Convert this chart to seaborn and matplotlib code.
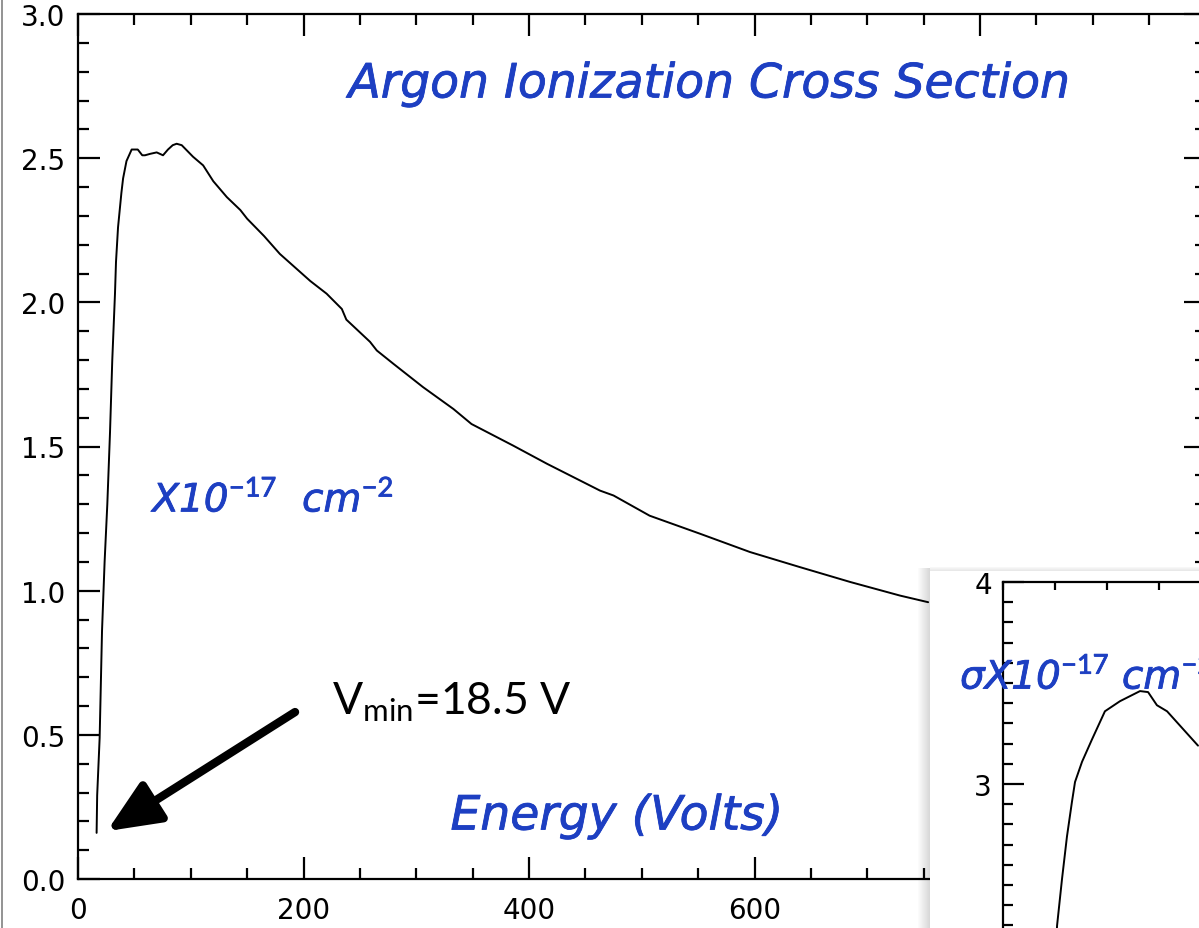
import matplotlib
matplotlib.use("Agg")
import matplotlib.pyplot as plt
import matplotlib.patheffects as pe
import seaborn as sns
import numpy as np
from matplotlib.patches import Rectangle
from matplotlib.lines import Line2D
from matplotlib.ticker import MultipleLocator, FormatStrFormatter

# ---------------- data ----------------
energy = [16.5, 17.0, 19.2, 21.3, 23.6, 26.0, 28.4, 30.4, 32.8, 33.7, 35.5, 38.5,
          40.0, 43.0, 47.6, 53.0, 57.0, 59.4, 64.0, 69.8, 75.4, 79.8, 84.0, 87.5,
          92.0, 102, 111, 120, 132, 144, 150, 165, 179, 206, 220.5, 234, 238, 259,
          265, 280, 306, 333, 349, 386, 416, 463, 475, 507, 552, 596, 640, 685,
          729, 754]
sigma = [0.16, 0.29, 0.49, 0.86, 1.10, 1.30, 1.55, 1.80, 2.03, 2.14, 2.26, 2.38,
         2.43, 2.49, 2.53, 2.53, 2.51, 2.51, 2.515, 2.52, 2.51, 2.53, 2.545, 2.55,
         2.545, 2.505, 2.475, 2.42, 2.365, 2.32, 2.29, 2.23, 2.168, 2.074, 2.03,
         1.977, 1.94, 1.863, 1.833, 1.786, 1.706, 1.63, 1.578, 1.503, 1.44, 1.347,
         1.33, 1.26, 1.197, 1.134, 1.082, 1.03, 0.983, 0.96]

inset_energy = [20.2, 20.8, 22.7, 24.6, 26.5, 27.7, 30.4, 34.2, 39.2, 45.0, 52.7,
                55.8, 59.2, 63.1, 75.0]
inset_sigma = [2.15, 2.30, 2.53, 2.74, 2.91, 3.01, 3.11, 3.22, 3.36, 3.41, 3.46,
               3.455, 3.39, 3.36, 3.19]

x_major_ticks = [0, 200, 400, 600, 800, 1000]
x_tick_labels = ['0', '200', '400', '600', '', '']
y_major_ticks = [0.0, 0.5, 1.0, 1.5, 2.0, 2.5, 3.0]
inset_y_ticks = [3, 4]
inset_y_labels = ['3', '4']

title_text = "Argon Ionization Cross Section"
unit_text = r"X10$^{\mathit{-17}}$  cm$^{\mathit{-2}}$"
xlabel_text = "Energy (Volts)"
inset_unit_text = "\u03c3X10" + r"$^{\mathit{-17}}$ cm$^{\mathit{-2}}$"
vmin_text = r"V$_{\mathrm{min}}$=18.5 V"

# ---------------- style ----------------
sns.set_style("ticks")
plt.rcParams['font.family'] = ['DejaVu Sans']
plt.rcParams['mathtext.fontset'] = 'custom'
plt.rcParams['mathtext.rm'] = 'Lato'
plt.rcParams['mathtext.it'] = 'DejaVu Sans:italic'

BLUE = '#1d3fc2'
BOLDER = [pe.withStroke(linewidth=0.6, foreground=BLUE)]
W, H = 1199, 929
fig = plt.figure(figsize=(W / 100, H / 100), dpi=100)
fig.patch.set_facecolor('white')

# main axes
ax = fig.add_axes([78 / W, (H - 880) / H, 1127.5 / W, 865 / H])
ax.set_facecolor('white')
sns.lineplot(x=energy, y=sigma, ax=ax, color='black', lw=1.4,
             estimator=None, sort=False)
ax.set_xlim(0, 1000)
ax.set_ylim(0, 3.0)
ax.set_xticks(x_major_ticks)
ax.set_xticklabels(x_tick_labels)
ax.set_yticks(y_major_ticks)
ax.xaxis.set_minor_locator(MultipleLocator(50))
ax.yaxis.set_minor_locator(MultipleLocator(0.1))
ax.yaxis.set_major_formatter(FormatStrFormatter('%.1f'))
for s in ax.spines.values():
    s.set_visible(True)
    s.set_linewidth(1.6)
    s.set_color('black')
ax.tick_params(which='both', direction='in', top=True, right=True,
               width=1.6, color='black', labelcolor='black')
ax.tick_params(which='major', length=16)
ax.tick_params(which='minor', length=8)
ax.tick_params(axis='y', labelsize=20, pad=9)
ax.tick_params(axis='x', labelsize=20, pad=12)
ax.set_xlabel('')
ax.set_ylabel('')

ax.text(560, 2.754, title_text, color=BLUE, fontsize=34, style='italic',
        ha='center', va='center', path_effects=BOLDER)
ax.text(66, 1.315, unit_text, color=BLUE, fontsize=28, style='italic',
        ha='left', va='center', path_effects=BOLDER)
ax.text(478, 0.215, xlabel_text, color=BLUE, fontsize=34, style='italic',
        ha='center', va='center', path_effects=BOLDER)
ax.text(225, 0.572, vmin_text, color='black', fontsize=32, family='Lato',
        ha='left', va='baseline')
ax.annotate("", xy=(25.7, 0.166), xytext=(192.5, 0.579),
            arrowprops=dict(arrowstyle='-|>,head_length=1.6,head_width=0.7',
                            lw=6, color='black', shrinkA=0, shrinkB=0,
                            mutation_scale=20))

# left border line of the pasted picture
fig.add_artist(Line2D([1.5 / W, 1.5 / W], [0, 1], color='#808080', lw=1.2,
                      transform=fig.transFigure))

# inset panel with shadow
px0, py0 = 930, 573
for i in range(12):
    a = 0.03 + 0.025 * i
    fig.add_artist(Rectangle(((px0 - 12 + i) / W, 0), 1 / W, (H - py0 + 4) / H,
                             transform=fig.transFigure, facecolor='black',
                             alpha=a * 0.5, edgecolor='none', zorder=1.5))
for i in range(4):
    fig.add_artist(Rectangle(((px0) / W, (H - py0 + 4 - i) / H), 1 - px0 / W, 1 / H,
                             transform=fig.transFigure, facecolor='black',
                             alpha=0.03 + 0.02 * i, edgecolor='none', zorder=1.5))
fig.add_artist(Rectangle((px0 / W, 0), 1 - px0 / W, (H - py0) / H,
                         transform=fig.transFigure, facecolor='white',
                         edgecolor='none', zorder=2))

# inset axes
ax2 = fig.add_axes([1003 / W, (H - 583 - 505) / H, 260 / W, 505 / H], zorder=3)
ax2.set_facecolor('none')
sns.lineplot(x=inset_energy, y=inset_sigma, ax=ax2, color='black', lw=1.4,
             estimator=None, sort=False)
ax2.set_xlim(0, 100)
ax2.set_ylim(1.5, 4.0)
ax2.set_yticks(inset_y_ticks)
ax2.set_yticklabels(inset_y_labels)
ax2.yaxis.set_minor_locator(MultipleLocator(0.1))
ax2.xaxis.set_major_locator(MultipleLocator(20))
for s in ax2.spines.values():
    s.set_visible(True)
    s.set_linewidth(1.6)
    s.set_color('black')
ax2.tick_params(which='both', direction='in', top=True, right=True,
                width=1.6, color='black', labelcolor='black', labelbottom=False)
ax2.tick_params(axis='y', which='major', length=15, labelsize=20, pad=8)
ax2.tick_params(axis='y', which='minor', length=7)
ax2.tick_params(axis='x', which='major', length=6)
ax2.set_xlabel('')
ax2.set_ylabel('')

fig.text(960 / W, 1 - 678 / H, inset_unit_text, color=BLUE, fontsize=28,
         style='italic', ha='left', va='center', zorder=6, path_effects=BOLDER)

fig.savefig('out.png', dpi=100)
